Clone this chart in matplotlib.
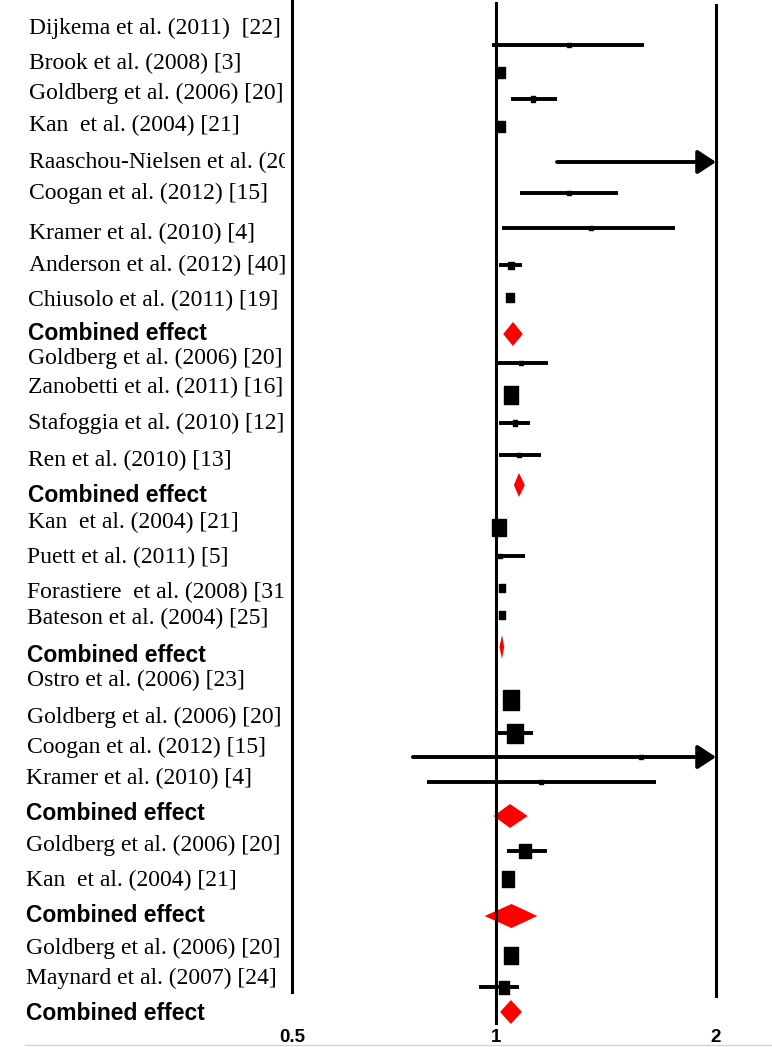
import numpy as np
import matplotlib
matplotlib.use("Agg")
import matplotlib.pyplot as plt
from matplotlib.path import Path
from matplotlib.transforms import Bbox, TransformedBbox

# study rows, top to bottom ("Combined effect" rows are the pooled estimates)
labels = ["Dijkema et al. (2011)  [22]", "Brook et al. (2008) [3]", "Goldberg et al. (2006) [20]",
          "Kan  et al. (2004) [21]", "Raaschou-Nielsen et al. (20", "Coogan et al. (2012) [15]",
          "Kramer et al. (2010) [4]", "Anderson et al. (2012) [40]", "Chiusolo et al. (2011) [19]",
          "Combined effect",
          "Goldberg et al. (2006) [20]", "Zanobetti et al. (2011) [16]", "Stafoggia et al. (2010) [12]",
          "Ren et al. (2010) [13]",
          "Combined effect",
          "Kan  et al. (2004) [21]", "Puett et al. (2011) [5]", "Forastiere  et al. (2008) [31",
          "Bateson et al. (2004) [25]",
          "Combined effect",
          "Ostro et al. (2006) [23]", "Goldberg et al. (2006) [20]", "Coogan et al. (2012) [15]",
          "Kramer et al. (2010) [4]",
          "Combined effect",
          "Goldberg et al. (2006) [20]", "Kan  et al. (2004) [21]",
          "Combined effect",
          "Goldberg et al. (2006) [20]", "Maynard et al. (2007) [24]",
          "Combined effect"]
combined = [l == "Combined effect" for l in labels]

est = [1.260, 1.016, 1.122, 1.016, 1.55, 1.260, 1.350, 1.047, 1.044, 1.055,
       1.083, 1.050, 1.062, 1.075, 1.075,
       1.011, 1.014, 1.019, 1.019, 1.019,
       1.049, 1.062, 1.578, 1.152, 1.045,
       1.096, 1.039, 1.050,
       1.047, 1.025, 1.048]
lo = [0.987, 1.010, 1.047, 1.010, 1.212, 1.080, 1.020, 1.008, 1.040, 1.023,
      0.995, 1.045, 1.011, 1.008, 1.058,
      1.006, 0.995, 1.015, 1.015, 1.011,
      1.044, 1.000, 0.754, 0.791, 0.992,
      1.034, 1.034, 0.962,
      1.042, 0.944, 1.013]
hi = [1.595, 1.022, 1.212, 1.022, 2.0, 1.470, 1.760, 1.085, 1.048, 1.088,
      1.179, 1.055, 1.112, 1.152, 1.095,
      1.016, 1.095, 1.023, 1.023, 1.026,
      1.054, 1.124, 2.0, 1.656, 1.105,
      1.175, 1.044, 1.139,
      1.052, 1.075, 1.085]
truncated = [False, False, False, False, True, False, False, False, False, False,
             False, False, False, False, False,
             False, False, False, False, False,
             False, False, True, False, False,
             False, False, False,
             False, False, False]
# box height (px) ~ study weight
weight_px = [4, 11, 6, 11, 0, 4, 5, 7, 9, 0,
             4, 18, 6, 4, 0,
             17, 4, 8, 8, 0,
             20, 19, 5, 5, 0,
             14, 16, 0,
             17, 13, 0]
ref_lines = [0.5, 1, 2]
tick_labels = ["0.5", "1", "2"]

# layout (pixel rows of the figure)
mark_y = [45, 72, 99, 126, 162, 193, 228, 265, 297, 334, 363, 395, 423, 455, 485, 527, 556,
          588, 615, 647, 700, 733, 757, 782, 816, 851, 879, 916, 955, 987, 1012]
text_y = [28, 63, 93, 125, 162, 193, 233, 265, 300, 333, 358, 387, 423, 460, 495, 522, 557,
          592, 618, 655, 680, 717, 747, 778, 813, 845, 880, 915, 948, 978, 1013]

W, H = 772, 1047


def fwd(x):
    l = np.log2(np.clip(np.asarray(x, dtype=float), 1e-9, None))
    return np.where(l < 0, l * 204, l * 220)


def inv(p):
    p = np.asarray(p, dtype=float)
    return np.where(p < 0, 2 ** (p / 204), 2 ** (p / 220))


fig = plt.figure(figsize=(W / 100, H / 100), dpi=100)
ax = fig.add_axes([0, 0, 1, 1])
ax.set_xscale('function', functions=(fwd, inv))
ax.set_xlim(float(inv(-496)), float(inv(W - 496)))
ax.set_ylim(H, 0)
ax.axis('off')

# reference lines
ax.plot([ref_lines[0]] * 2, [0, 992], color='k', lw=2.2)
ax.plot([ref_lines[1]] * 2, [3, 1023], color='k', lw=2.2)
ax.plot([ref_lines[2]] * 2, [5, 996], color='k', lw=2.2)
ax.axhline(1045, xmin=25 / W, color='#d4d4d4', lw=1)
for v, t in zip(ref_lines, tick_labels):
    ax.text(v, 1038, t, ha='center', va='center', fontsize=13.5, fontweight='bold',
            family='Liberation Sans')

box = Path([(-0.8, -1), (0.8, -1), (0.8, 1), (-0.8, 1), (-0.8, -1)],
           [Path.MOVETO, Path.LINETO, Path.LINETO, Path.LINETO, Path.CLOSEPOLY])

clip = TransformedBbox(Bbox.from_extents(0, 0, 285 / W, 1), fig.transFigure)

for i, lab in enumerate(labels):
    y = mark_y[i]
    tx = (29.5 - 4 * i / 30) / W
    if combined[i]:
        ax.fill([lo[i], est[i], hi[i], est[i]], [y, y - 12, y, y + 12], color='#ff0000', lw=0)
        t = ax.text(tx, text_y[i], lab, transform=ax.get_yaxis_transform(), ha='left',
                    va='center', fontsize=16.5, fontweight='bold', family='Liberation Sans')
    else:
        if truncated[i]:
            ax.annotate('', xy=(hi[i], y), xytext=(lo[i], y),
                        arrowprops=dict(arrowstyle='-|>,head_length=0.55,head_width=0.36',
                                        mutation_scale=20, lw=2.8, color='k',
                                        shrinkA=0, shrinkB=0))
        else:
            ax.plot([lo[i], hi[i]], [y, y], color='k', lw=2.8, solid_capstyle='butt')
        if weight_px[i] > 0:
            ax.plot(est[i], y, marker=box, ms=weight_px[i] * 0.72, color='k', lw=0)
        t = ax.text(tx, text_y[i], lab, transform=ax.get_yaxis_transform(), ha='left',
                    va='center', fontsize=17, family='Liberation Serif')
    t.set_clip_box(clip)
    t.set_clip_on(True)

fig.savefig('out.png', dpi=100)
